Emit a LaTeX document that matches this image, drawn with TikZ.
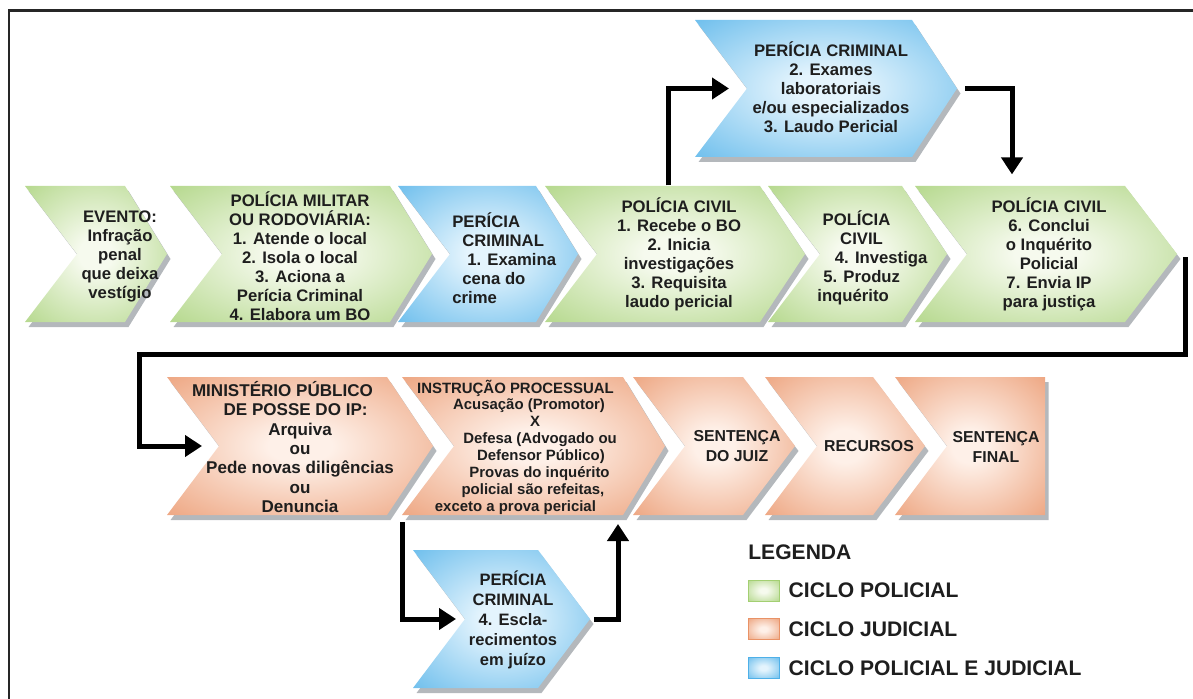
\documentclass[tikz,border=0pt]{standalone}
\usepackage{fontspec}
\setmainfont{Liberation Sans}
\usetikzlibrary{arrows.meta,positioning,shadows}

\definecolor{grnout}{RGB}{163,207,114}
\definecolor{grnin}{RGB}{246,250,238}
\definecolor{bluout}{RGB}{78,176,232}
\definecolor{bluin}{RGB}{228,244,253}
\definecolor{orgout}{RGB}{233,146,102}
\definecolor{orgin}{RGB}{254,240,232}
\definecolor{shd}{RGB}{180,184,188}
\definecolor{txtc}{RGB}{30,30,30}

\pgfdeclareradialshading{grnshade}{\pgfpointorigin}{color(0bp)=(grnin); color(6bp)=(grnin); color(44bp)=(grnout); color(75bp)=(grnout)}
\pgfdeclareradialshading{blushade}{\pgfpointorigin}{color(0bp)=(bluin); color(6bp)=(bluin); color(44bp)=(bluout); color(75bp)=(bluout)}
\pgfdeclareradialshading{orgshade}{\pgfpointorigin}{color(0bp)=(orgin); color(6bp)=(orgin); color(44bp)=(orgout); color(75bp)=(orgout)}

% chevron: name, colour, x left, x tip, y top, y bottom, tip depth
\newcommand{\notchd}{52}
\newcommand{\chev}[7]{%
  \path[chev,#2] (#3,#5) -- ({#4-#7},#5) -- (#4,{(#5+#6)/2}) -- ({#4-#7},#6)
    -- (#3,#6) -- ({#3+\notchd},{(#5+#6)/2}) -- cycle;
  \coordinate (#1-n) at ({#3+\notchd},{(#5+#6)/2});
  \coordinate (#1-t) at (#4,{(#5+#6)/2});
  \coordinate (#1-bl) at (#3,#6);
  \coordinate (#1-br) at ({#4-#7},#6);}
\newcommand{\shiftln}[2]{\hspace*{#1}#2\hspace*{-#1}}

\begin{document}
\begin{tikzpicture}[x=0.02cm,y=-0.02cm,
  grn/.style={shading=grnshade},
  blu/.style={shading=blushade},
  org/.style={shading=orgshade},
  chev/.style={drop shadow={shadow xshift=0.07cm,shadow yshift=-0.1cm,fill=shd,opacity=1}},
  txt/.style={font=\bfseries\fontsize{9.5}{10.8}\selectfont,align=center,
              text=txtc,inner sep=0pt,minimum height=2.73cm},
  legtxt/.style={font=\bfseries\fontsize{12}{14}\selectfont,text=txtc,inner sep=0pt},
  legbox/.style={minimum width=0.62cm,minimum height=0.42cm,inner sep=0pt},
  arr/.style={-{Triangle[length=0.34cm,width=0.42cm]},line width=0.1cm}]
\useasboundingbox (0,0) rectangle (1193,699);
\draw[line width=0.06cm,black!85] (9,720) -- (9,11) -- (1210,11);

% ciclo policial
\chev{ev}{grn}{25}{167}{186}{322}{42}
\chev{pm}{grn}{170}{432}{186}{322}{42}
\chev{pc1}{blu}{398}{578}{186}{322}{42}
\chev{civ1}{grn}{545}{805}{186}{322}{45}
\chev{civ2}{grn}{768}{947}{186}{322}{45}
\chev{civ3}{grn}{915}{1177}{186}{322}{52}
\chev{pc2}{blu}{695}{957}{20}{157}{45}
% ciclo judicial
\chev{mp}{org}{167}{433}{377}{515}{46}
\chev{ip}{org}{402}{665}{377}{515}{42}
\chev{sj}{org}{633}{795}{377}{515}{52}
\chev{rec}{org}{765}{925}{377}{515}{52}
\chev{sf}{org}{895}{1045}{377}{515}{0}
\chev{pc4}{blu}{413}{590}{550}{688}{52}

\node[txt] (ev) at (120,256) {EVENTO:\\Infração\\penal\\que deixa\\vestígio};
\node[txt] (pm) at (300,256) {POLÍCIA MILITAR\\OU RODOVIÁRIA:\\1. Atende o local\\2. Isola o local\\3. Aciona a\\Perícia Criminal\\4. Elabora um BO};
\node[txt,align=left,anchor=west] (pc1) at (452,258) {PERÍCIA\\\hspace*{5.7pt}CRIMINAL\\\hspace*{8.5pt}1. Examina\\\hspace*{5.7pt}cena do\\crime};
\node[txt] (civ1) at (679,254) {POLÍCIA CIVIL\\1. Recebe o BO\\2. Inicia\\investigações\\3. Requisita\\laudo pericial};
\node[txt,align=left,anchor=west] (civ2) at (817,258) {\hspace*{3pt}POLÍCIA\\\hspace*{13pt}CIVIL\\\hspace*{10pt}4. Investiga\\\hspace*{3.4pt}5. Produz\\inquérito};
\node[txt] (civ3) at (1049,254) {POLÍCIA CIVIL\\6. Conclui\\o Inquérito\\Policial\\7. Envia IP\\para justiça};
\node[txt] (pc2) at (831,87) {PERÍCIA CRIMINAL\\2. Exames\\laboratoriais\\e/ou especializados\\3. Laudo Pericial};

\node[txt,font=\bfseries\fontsize{9.7}{11}\selectfont] (mp) at (300,447) {\shiftln{-10pt}{MINISTÉRIO PÚBLICO}\\\shiftln{-5pt}{DE POSSE DO IP:}\\Arquiva\\ou\\Pede novas diligências\\ou\\Denuncia};
\node[txt,font=\bfseries\fontsize{8.5}{9.6}\selectfont] (ip) at (533,447) {\shiftln{-10pt}{INSTRUÇÃO PROCESSUAL}\\\shiftln{-4.5pt}{Acusação (Promotor)}\\\shiftln{2.3pt}{X}\\\shiftln{8pt}{Defesa (Advogado ou}\\\shiftln{9pt}{Defensor Público)}\\\shiftln{7.4pt}{Provas do inquérito}\\policial são refeitas,\\\shiftln{-10pt}{exceto a prova pericial}};
\node[txt,font=\bfseries\fontsize{9}{11.3}\selectfont] (sj) at (737,446) {SENTENÇA\\DO JUIZ};
\node[txt,font=\bfseries\fontsize{9}{11.3}\selectfont] (rec) at (869,446) {RECURSOS};
\node[txt,font=\bfseries\fontsize{9}{11.3}\selectfont] (sf) at (996,447) {SENTENÇA\\FINAL};
\node[txt,font=\bfseries\fontsize{9.4}{11.3}\selectfont] (pc4) at (513,620) {PERÍCIA\\CRIMINAL\\4. Escla-\\recimentos\\em juízo};

\draw[arr] ([shift={(-11,0)}]civ1.north) |- ([shift={(-18,0)}]pc2-n);
\draw[arr] ([shift={(8,0)}]pc2-t) -| ([shift={(-37,-11)}]civ3.north);
\draw[arr] ([shift={(8,3)}]civ3-t) -- ++(0,97) -| ([shift={(-80,0)}]mp-n) -- ([shift={(-17,0)}]mp-n);
\draw[arr] ([shift={(0,7)}]ip-bl) |- ([shift={(-9,0)}]pc4-n);
\draw[arr] ([shift={(4,0)}]pc4-t) -| ([shift={(-5,9)}]ip-br);

% legenda
\node[legtxt,anchor=west] (leg) at (748,552) {LEGENDA};
\node[legbox,grn,draw=grnout] (lg1) at (763.5,590.5) {};
\node[legbox,org,draw=orgout,below=0.34cm of lg1] (lg2) {};
\node[legbox,blu,draw=bluout,below=0.34cm of lg2] (lg3) {};
\node[legtxt,right=0.18cm of lg1] (lt1) {CICLO POLICIAL};
\node[legtxt,right=0.18cm of lg2] (lt2) {CICLO JUDICIAL};
\node[legtxt,right=0.18cm of lg3] (lt3) {CICLO POLICIAL E JUDICIAL};
\end{tikzpicture}
\end{document}
